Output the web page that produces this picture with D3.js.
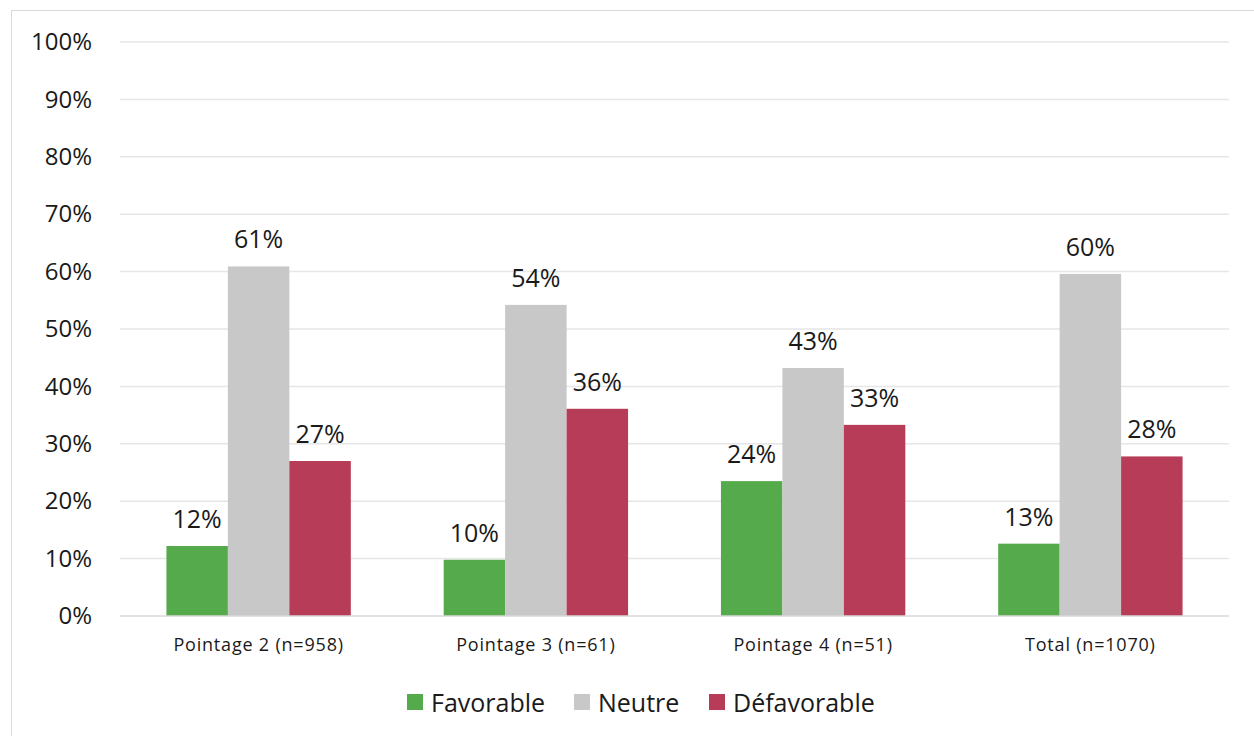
<!DOCTYPE html>
<html><head><meta charset="utf-8">
<script src="https://cdn.jsdelivr.net/npm/d3@7"></script>
<style>body{margin:0;background:#fff}svg{display:block;font-family:"Open Sans","Noto Sans",sans-serif}</style>
</head><body><svg id="c" width="1254" height="736"></svg>
<script>
const categories = ["Pointage 2 (n=958)", "Pointage 3 (n=61)", "Pointage 4 (n=51)", "Total (n=1070)"];
const seriesNames = ["Favorable", "Neutre", "Défavorable"];
const favorable = [12.2, 9.8, 23.5, 12.6];
const neutre = [60.9, 54.2, 43.2, 59.6];
const defavorable = [27.0, 36.1, 33.3, 27.8];
const labelsFav = ["12%", "10%", "24%", "13%"];
const labelsNeu = ["61%", "54%", "43%", "60%"];
const labelsDef = ["27%", "36%", "33%", "28%"];
const yTicks = [0,10,20,30,40,50,60,70,80,90,100];
const colors = ["#55ab4b", "#c8c8c8", "#b73c57"];

const svg = d3.select("#c");
svg.append("rect").attr("x",11.5).attr("y",10.5).attr("width",1250).attr("height",730)
  .attr("fill","none").attr("stroke","#d9d9d9").attr("stroke-width",1);

const x0 = 120, x1 = 1229, yTop = 42, yBot = 616;
const x = d3.scaleBand().domain(categories).range([x0,x1]).paddingInner(0.335).paddingOuter(0.1675);
const xs = d3.scaleBand().domain(seriesNames).range([0,x.bandwidth()]);
const y = d3.scaleLinear().domain([0,100]).range([yBot,yTop]);

const grid = svg.append("g");
grid.selectAll("line").data(yTicks.filter(d=>d>0)).join("line")
  .attr("x1",x0).attr("x2",x1).attr("y1",d=>y(d)).attr("y2",d=>y(d))
  .attr("stroke","#e6e6e6").attr("stroke-width",1.5);

const yAxis = svg.append("g").attr("transform",`translate(${x0},0)`)
  .call(d3.axisLeft(y).tickValues(yTicks).tickFormat(d=>d+"%").tickSize(0).tickPadding(28));
yAxis.select(".domain").remove();
yAxis.selectAll("text").attr("font-size",24).attr("fill","#1a1a1a").attr("font-family","'Open Sans',sans-serif");

const data = [favorable, neutre, defavorable];
const labels = [labelsFav, labelsNeu, labelsDef];
seriesNames.forEach((s,si)=>{
  const g = svg.append("g");
  g.selectAll("rect").data(categories).join("rect")
    .attr("x",c=>x(c)+xs(s)).attr("width",xs.bandwidth())
    .attr("y",(c,i)=>y(data[si][i])).attr("height",(c,i)=>y(0)-y(data[si][i]))
    .attr("fill",colors[si]);
  g.selectAll("text").data(categories).join("text")
    .attr("x",c=>x(c)+xs(s)+xs.bandwidth()/2)
    .attr("y",(c,i)=>y(data[si][i])-18)
    .attr("text-anchor","middle").attr("font-size",25).attr("fill","#1a1a1a")
    .text((c,i)=>labels[si][i]);
});

svg.append("line").attr("x1",x0).attr("x2",x1).attr("y1",yBot).attr("y2",yBot)
  .attr("stroke","#d9d9d9").attr("stroke-width",1.5);

const xAxis = svg.append("g").attr("transform",`translate(0,${yBot})`)
  .call(d3.axisBottom(x).tickSize(0).tickPadding(22));
xAxis.select(".domain").remove();
xAxis.selectAll("text").attr("font-size",18).attr("letter-spacing",0.8).attr("fill","#1a1a1a").attr("font-family","'Open Sans',sans-serif");

const legX = [407, 574, 709];
const leg = svg.append("g");
seriesNames.forEach((s,i)=>{
  leg.append("rect").attr("x",legX[i]).attr("y",694).attr("width",16).attr("height",16).attr("fill",colors[i]);
  leg.append("text").attr("x",legX[i]+24).attr("y",712).attr("font-size",25).attr("fill","#1a1a1a").text(s);
});
</script></body></html>
